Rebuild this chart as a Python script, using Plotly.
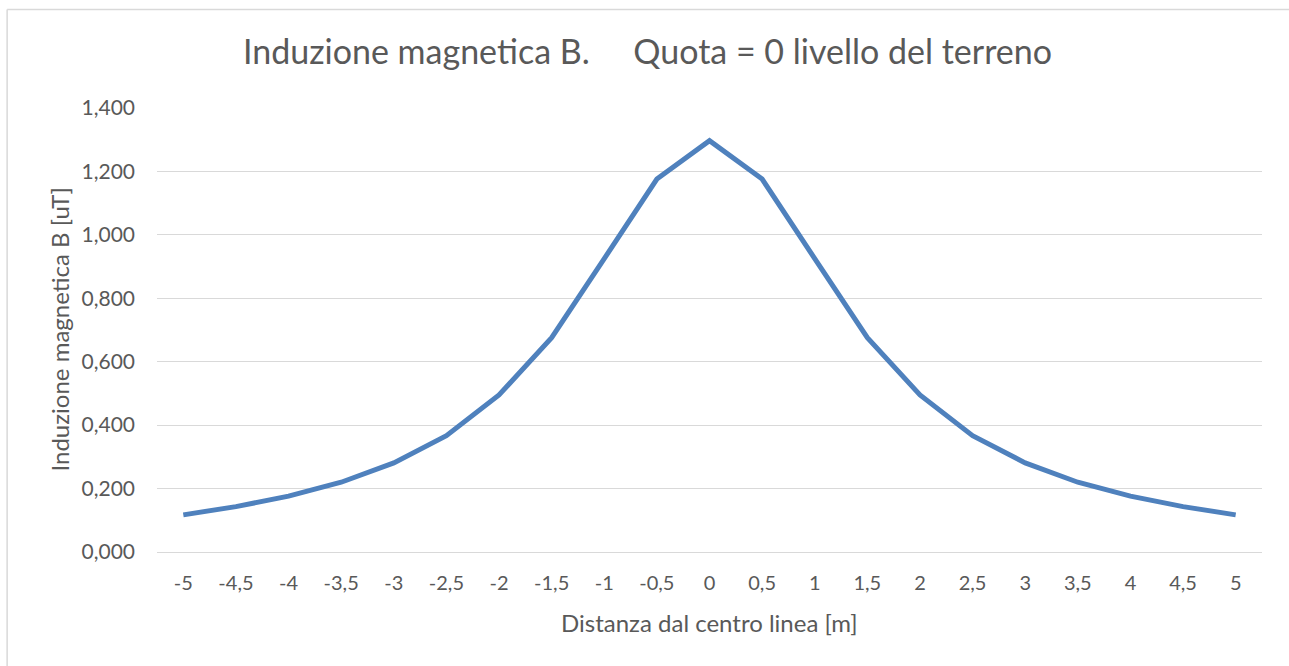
import plotly.graph_objects as go

categories = ["-5", "-4,5", "-4", "-3,5", "-3", "-2,5", "-2", "-1,5", "-1", "-0,5", "0",
              "0,5", "1", "1,5", "2", "2,5", "3", "3,5", "4", "4,5", "5"]
b_values = [0.117, 0.143, 0.176, 0.220, 0.281, 0.367, 0.495, 0.676, 0.925, 1.176, 1.297,
            1.176, 0.925, 0.676, 0.495, 0.367, 0.281, 0.220, 0.176, 0.143, 0.117]
y_ticks = [0, 0.2, 0.4, 0.6, 0.8, 1.0, 1.2, 1.4]

title_text = "Induzione magnetica B.&nbsp;&nbsp;&nbsp;&nbsp;&nbsp;Quota = 0 livello del terreno"
x_title = "Distanza dal centro linea [m]"
y_title = "Induzione magnetica B [uT]"

W, H = 1289, 666
L, R, T, B = 156.5, 26.5, 108, 114
PW, PH = W - L - R, H - T - B

FONT = "Lato, 'Open Sans', sans-serif"
GRAY = "#595959"

fig = go.Figure()
fig.add_trace(go.Scatter(
    x=categories, y=b_values, mode="lines",
    line=dict(color="#4f81bd", width=5),
    showlegend=False, hoverinfo="x+y",
))

fig.update_layout(
    width=W, height=H,
    margin=dict(l=L, r=R, t=T, b=B, pad=0),
    paper_bgcolor="white", plot_bgcolor="white",
    separators=",.",
    font=dict(family=FONT, color=GRAY),
    title=dict(text=title_text, x=647.5 / W, xref="container", xanchor="center",
               y=1 - 52 / H, yref="container", yanchor="middle",
               font=dict(size=34, color=GRAY, family=FONT)),
    xaxis=dict(type="category", range=[-0.5, len(categories) - 0.5],
               showgrid=False, zeroline=False, showline=True, linecolor="#d9d9d9", linewidth=1,
               ticks="", tickfont=dict(size=20, color=GRAY), ticklabelstandoff=13,
               fixedrange=True),
    yaxis=dict(range=[0, 1.4], tickvals=y_ticks, tickformat=".3f",
               showgrid=True, gridcolor="#d9d9d9", gridwidth=1, zeroline=False,
               showline=False, ticks="", tickfont=dict(size=21, color=GRAY),
               ticklabelstandoff=21, fixedrange=True),
    annotations=[
        dict(text=x_title, xref="paper", yref="paper", x=0.5, y=0, yshift=-70,
             xanchor="center", yanchor="middle", showarrow=False,
             font=dict(size=24, color=GRAY, family=FONT)),
        dict(text=y_title, xref="paper", yref="paper", x=0, y=0.5, xshift=-(L - 58),
             xanchor="center", yanchor="middle", textangle=-90, showarrow=False,
             font=dict(size=24, color=GRAY, family=FONT)),
    ],
)

# chart-area border (top and left edges visible in the reference)
lx = (6.5 - L) / PW
ty = (H - B - 9.5) / PH
rx = (W + 2 - L) / PW
by = (H - B - (H + 2)) / PH
fig.add_shape(type="line", xref="paper", yref="paper", x0=lx, x1=rx, y0=ty, y1=ty,
              line=dict(color="#d9d9d9", width=1.5), layer="below")
fig.add_shape(type="line", xref="paper", yref="paper", x0=lx, x1=lx, y0=ty, y1=by,
              line=dict(color="#d9d9d9", width=1.5), layer="below")

fig.write_html("out.html", config=dict(displayModeBar=False))
